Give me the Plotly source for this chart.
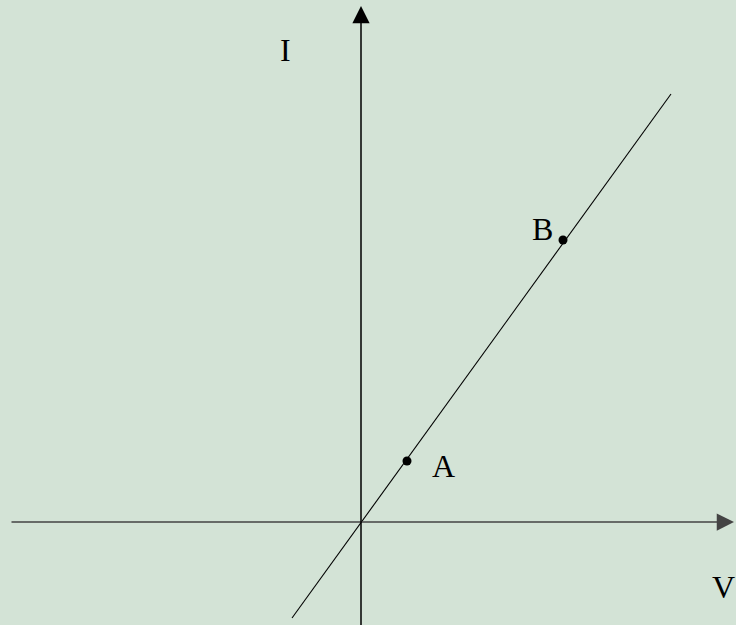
import plotly.graph_objects as go

# data (1 unit = 10 px on screen)
line_V = [-6.9, 31.0]
line_I = [-9.6, 42.8]
point_names = ["A", "B"]
point_V = [4.6, 20.2]
point_I = [6.1, 28.2]
label_V = [8.2, 18.1]
label_I = [5.6, 29.3]

axis_label_text = ["I", "V"]
axis_label_V = [-7.6, 36.2]
axis_label_I = [47.2, -6.5]

x_range = [-36.1, 37.5]
y_range = [-10.3, 52.2]

bg = "#d3e3d6"

fig = go.Figure()
fig.add_trace(go.Scatter(x=line_V, y=line_I, mode="lines",
                         line=dict(color="black", width=1.1), hoverinfo="skip"))
fig.add_trace(go.Scatter(x=point_V, y=point_I, mode="markers",
                         marker=dict(color="black", size=9), hoverinfo="skip"))

font = dict(family="Liberation Serif, Times New Roman, serif", size=32, color="black")
for t, x, y in zip(point_names, label_V, label_I):
    fig.add_annotation(x=x, y=y, text=t, showarrow=False, font=font,
                       xanchor="center", yanchor="middle")
for t, x, y in zip(axis_label_text, axis_label_V, axis_label_I):
    fig.add_annotation(x=x, y=y, text=t, showarrow=False, font=font,
                       xanchor="center", yanchor="middle", borderpad=0)

# axes with arrows
fig.add_annotation(x=37.3, y=0, ax=-35.1, ay=0, axref="x", ayref="y", xref="x", yref="y",
                   text="", showarrow=True, arrowhead=2, arrowsize=2.3, arrowwidth=1.5,
                   arrowcolor="#444444")
fig.add_annotation(x=0, y=51.6, ax=0, ay=-11, axref="x", ayref="y", xref="x", yref="y",
                   text="", showarrow=True, arrowhead=2, arrowsize=2.3, arrowwidth=1.5,
                   arrowcolor="black")

fig.update_xaxes(range=x_range, visible=False)
fig.update_yaxes(range=y_range, visible=False)
fig.update_layout(width=736, height=625, margin=dict(l=0, r=0, t=0, b=0),
                  paper_bgcolor=bg, plot_bgcolor=bg, showlegend=False)
fig.write_html("out.html", config={"displayModeBar": False},
               post_script="document.body.style.margin='0';document.body.style.overflow='hidden';document.body.style.background='%s';" % bg)
